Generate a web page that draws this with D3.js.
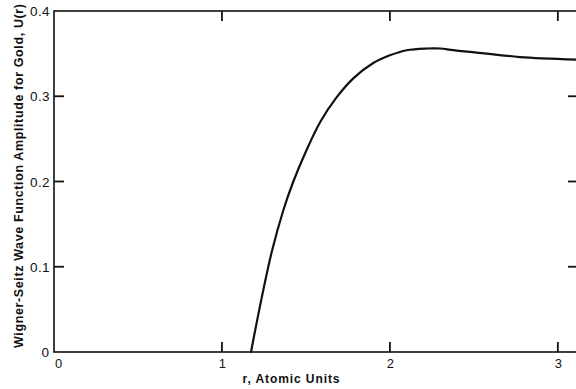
<!DOCTYPE html>
<html>
<head>
<meta charset="utf-8">
<script src="https://cdn.jsdelivr.net/npm/d3@7"></script>
<style>
  html, body { margin: 0; padding: 0; background: #fff; }
  svg { display: block; }
  text { font-family: "Liberation Sans", Arial, Helvetica, sans-serif; fill: #111; }
</style>
</head>
<body>
<svg id="chart" width="576" height="389"></svg>
<script>
// Wigner-Seitz wave function amplitude U(r) for gold
const rValues = [1.173, 1.235, 1.296, 1.365, 1.425, 1.504, 1.586, 1.68, 1.782, 1.901, 2.0, 2.10, 2.218, 2.30, 2.377, 2.576, 2.774, 3.12];
const uValues = [0.0, 0.062, 0.117, 0.166, 0.200, 0.237, 0.270, 0.298, 0.321, 0.339, 0.348, 0.354, 0.356, 0.356, 0.354, 0.350, 0.346, 0.343];

const xTickValues = [0, 1, 2, 3];
const xTickLabels = ["0", "1", "2", "3"];
const yTickValues = [0, 0.1, 0.2, 0.3, 0.4];
const yTickLabels = ["0", "0.1", "0.2", "0.3", "0.4"];

const xTitle = "r, Atomic Units";
const yTitle = "Wigner-Seitz Wave Function Amplitude for Gold, U(r)";

const svg = d3.select("#chart");
const ink = "#111";

const x = d3.scaleLinear().domain([0, 3.12]).range([54, 578]);
const y = d3.scaleLinear().domain([0, 0.4]).range([352, 11]);

const frame = svg.append("g");

// plot frame (right edge falls just outside the view)
frame.append("rect")
  .attr("x", x(0)).attr("y", y(0.4))
  .attr("width", x(3.12) - x(0)).attr("height", y(0) - y(0.4))
  .attr("fill", "none").attr("stroke", ink).attr("stroke-width", 1.6);

const tickLen = 10;
const innerX = xTickValues.filter(d => d > 0);
const innerY = yTickValues.filter(d => d > 0 && d < 0.4);

// bottom and top ticks point inward
frame.selectAll(".tb").data(innerX).join("line")
  .attr("x1", d => x(d)).attr("x2", d => x(d))
  .attr("y1", y(0)).attr("y2", y(0) - tickLen)
  .attr("stroke", ink).attr("stroke-width", 1.8);
frame.selectAll(".tt").data(innerX).join("line")
  .attr("x1", d => x(d)).attr("x2", d => x(d))
  .attr("y1", y(0.4)).attr("y2", y(0.4) + tickLen)
  .attr("stroke", ink).attr("stroke-width", 1.8);

// left and right ticks point inward
frame.selectAll(".tl").data(innerY).join("line")
  .attr("x1", x(0)).attr("x2", x(0) + tickLen)
  .attr("y1", d => y(d)).attr("y2", d => y(d))
  .attr("stroke", ink).attr("stroke-width", 1.8);
frame.selectAll(".tr").data(innerY).join("line")
  .attr("x1", x(3.12)).attr("x2", x(3.12) - tickLen)
  .attr("y1", d => y(d)).attr("y2", d => y(d))
  .attr("stroke", ink).attr("stroke-width", 1.8);

// y tick labels
const yLab = svg.append("g");
yTickValues.forEach((v, i) => {
  yLab.append("text")
    .attr("x", v === 0 ? 49 : 50)
    .attr("y", y(v) + 5)
    .attr("text-anchor", "end")
    .attr("font-size", 13.5)
    .attr("letter-spacing", v === 0 ? 0 : 0.4)
    .text(yTickLabels[i]);
});

// x tick labels
const xLab = svg.append("g");
xTickValues.forEach((v, i) => {
  xLab.append("text")
    .attr("x", v === 0 ? x(v) + 4.5 : x(v) + 0.5)
    .attr("y", 368)
    .attr("text-anchor", "middle")
    .attr("font-size", 13)
    .text(xTickLabels[i]);
});

// axis titles
svg.append("text")
  .attr("x", 291).attr("y", 383)
  .attr("text-anchor", "middle")
  .attr("font-size", 12)
  .attr("font-weight", "bold")
  .attr("textLength", 97)
  .text(xTitle);

svg.append("text")
  .attr("transform", "translate(23,176) rotate(-90)")
  .attr("text-anchor", "middle")
  .attr("font-size", 12.5)
  .attr("font-weight", "bold")
  .attr("textLength", 344)
  .attr("lengthAdjust", "spacing")
  .text(yTitle);

// the curve
const pts = rValues.map((r, i) => [r, uValues[i]]);
const line = d3.line()
  .x(d => x(d[0]))
  .y(d => y(d[1]))
  .curve(d3.curveCatmullRom.alpha(0.5));

svg.append("path")
  .datum(pts)
  .attr("d", line)
  .attr("fill", "none")
  .attr("stroke", ink)
  .attr("stroke-width", 2.2)
  .attr("stroke-linejoin", "round")
  .attr("stroke-linecap", "round");
</script>
</body>
</html>
